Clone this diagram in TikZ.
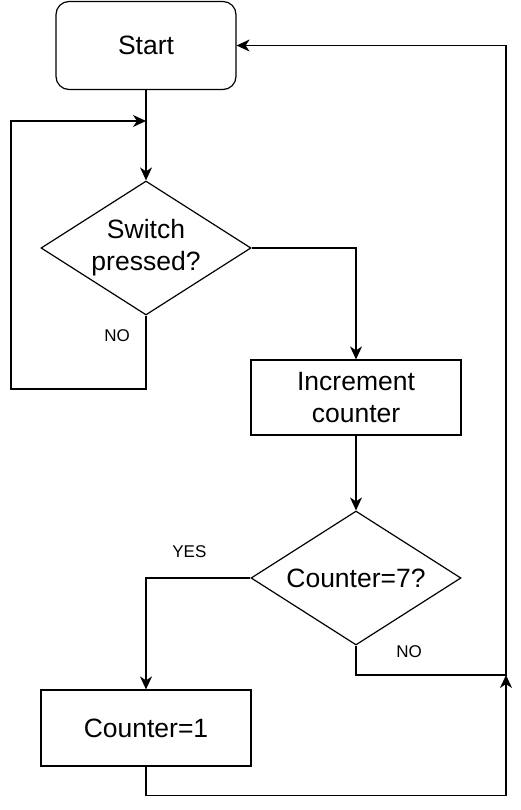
\documentclass[tikz,border=0pt]{standalone}
\usepackage{fontspec}
\setmainfont{Liberation Sans}
\usetikzlibrary{shapes.geometric,arrows.meta,positioning}

\tikzset{
    box/.style={draw, line width=1.2pt, rectangle, minimum width=210pt, minimum height=75pt,
        align=center, font=\fontsize{26.5}{32}\selectfont},
    startbox/.style={box, rounded corners=13pt, minimum width=180pt, minimum height=88pt},
    decision/.style={draw, line width=1.2pt, diamond, aspect=1.567, inner sep=0pt,
        minimum width=210pt, minimum height=134pt, align=center, font=\fontsize{26.5}{32}\selectfont},
    lbl/.style={font=\fontsize{17}{20}\selectfont, inner sep=0pt},
    arr/.style={line width=1.2pt, -{Stealth[length=13pt, width=12pt, inset=4pt]}},
    line/.style={line width=1.2pt}
}

\begin{document}
\begin{tikzpicture}
    \useasboundingbox (0,0) rectangle (521pt,-810pt);
    \node[startbox] (start) at (146pt,-45.5pt) {Start};
    \node[decision, node distance=202.5pt, below of=start] (sw) {Switch\\pressed?};
    \node[box, node distance=149.5pt, below of=sw, xshift=210pt] (inc) {Increment\\counter};
    \node[decision, node distance=180.5pt, below of=inc] (cnt) {Counter=7?};
    \node[box, node distance=150pt, below of=cnt, xshift=-210pt, minimum height=76pt] (one) {Counter=1};

    % free ends of the loops
    \coordinate (join1) at (146pt,-121pt);
    \coordinate (loopL) at (11pt,-389pt);
    \coordinate (join2) at (506pt,-675pt);

    \draw[arr] (start) -- (sw);
    \draw[arr] (sw.south) |- (loopL) |- (join1);
    \draw[arr] (sw.east) -| (inc.north);
    \draw[arr] (inc) -- (cnt);
    \draw[arr] (cnt.west) -| (one.north);
    \draw[arr] (one.south) -- ++(0,-29pt) -| (join2);
    \draw[arr] (cnt.south) |- (join2) |- (start.east);

    \node[lbl] (no1) at ([xshift=-29pt, yshift=-20pt]sw.south) {NO};
    \node[lbl] (yes) at ([xshift=-61pt, yshift=26pt]cnt.west) {YES};
    \node[lbl] (no2) at ([xshift=53pt, yshift=-6pt]cnt.south) {NO};
\end{tikzpicture}
\end{document}
